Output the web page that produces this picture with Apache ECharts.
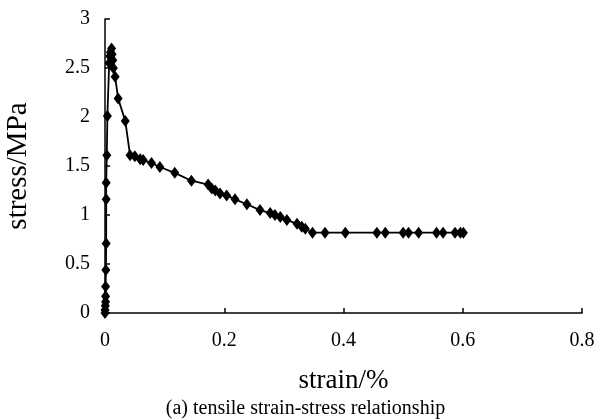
<!DOCTYPE html>
<html>
<head>
<meta charset="utf-8">
<script src="https://cdn.jsdelivr.net/npm/echarts@6/dist/echarts.min.js"></script>
<style>html,body{margin:0;padding:0;background:#fff;}#c{width:611px;height:420px;}</style>
</head>
<body>
<div id="c"></div>
<script>
var strain = [0,0,0.0005,0.001,0.001,0.001,0.0015,0.002,0.002,0.002,0.003,0.004,0.007,0.008,0.009,0.011,0.012,0.013,0.014,0.017,0.022,0.034,0.042,0.05,0.059,0.064,0.078,0.092,0.117,0.145,0.173,0.179,0.185,0.193,0.204,0.218,0.238,0.26,0.277,0.285,0.294,0.305,0.322,0.33,0.336,0.348,0.369,0.403,0.456,0.47,0.50,0.509,0.526,0.556,0.567,0.587,0.596,0.601];
var stress = [0,0.03,0.075,0.115,0.17,0.27,0.44,0.71,1.16,1.33,1.61,2.01,2.55,2.62,2.66,2.70,2.64,2.58,2.5,2.41,2.19,1.96,1.61,1.6,1.57,1.56,1.53,1.49,1.43,1.35,1.31,1.27,1.25,1.22,1.20,1.16,1.11,1.05,1.02,1.00,0.98,0.95,0.91,0.88,0.86,0.82,0.82,0.82,0.82,0.82,0.82,0.82,0.82,0.82,0.82,0.82,0.82,0.82];
var xTicks = [0,0.2,0.4,0.6,0.8];
var yTicks = [0,0.5,1,1.5,2,2.5,3];
var xTitle = 'strain/%';
var yTitle = 'stress/MPa';
var caption = '(a) tensile strain-stress relationship';

var pts = strain.map(function(x,i){return [x, stress[i]];});
var font = 'Liberation Serif';
var chart = echarts.init(document.getElementById('c'));
chart.setOption({
  animation:false,
  backgroundColor:'#fff',
  grid:{left:105,right:29,top:19,bottom:107,containLabel:false,outerBoundsMode:'none'},
  title:{text:caption,left:'center',top:394,textStyle:{fontFamily:font,fontSize:20,fontWeight:'normal',color:'#000'}},
  xAxis:{type:'value',min:0,max:0.8,interval:0.2,
    name:xTitle,nameLocation:'middle',nameGap:54,
    nameTextStyle:{fontFamily:font,fontSize:27,color:'#000'},
    axisLine:{lineStyle:{color:'#000',width:1.5}},
    axisTick:{inside:true,length:5,lineStyle:{color:'#000',width:1.5}},
    axisLabel:{fontFamily:font,fontSize:20,color:'#000',margin:18,formatter:function(v){return String(+v.toFixed(1));}},
    splitLine:{show:false}},
  yAxis:{type:'value',min:0,max:3,interval:0.5,
    name:yTitle,nameLocation:'middle',nameGap:72,nameRotate:90,
    nameTextStyle:{fontFamily:font,fontSize:29,color:'#000'},
    axisLine:{show:true,lineStyle:{color:'#000',width:1.5}},
    axisTick:{show:true,inside:true,length:5,lineStyle:{color:'#000',width:1.5}},
    axisLabel:{fontFamily:font,fontSize:20,color:'#000',margin:15},
    splitLine:{show:false}},
  series:[{type:'line',data:pts,symbol:'diamond',symbolSize:[9,12],
    lineStyle:{color:'#000',width:1.8},itemStyle:{color:'#000'}}]
});
</script>
</body>
</html>
